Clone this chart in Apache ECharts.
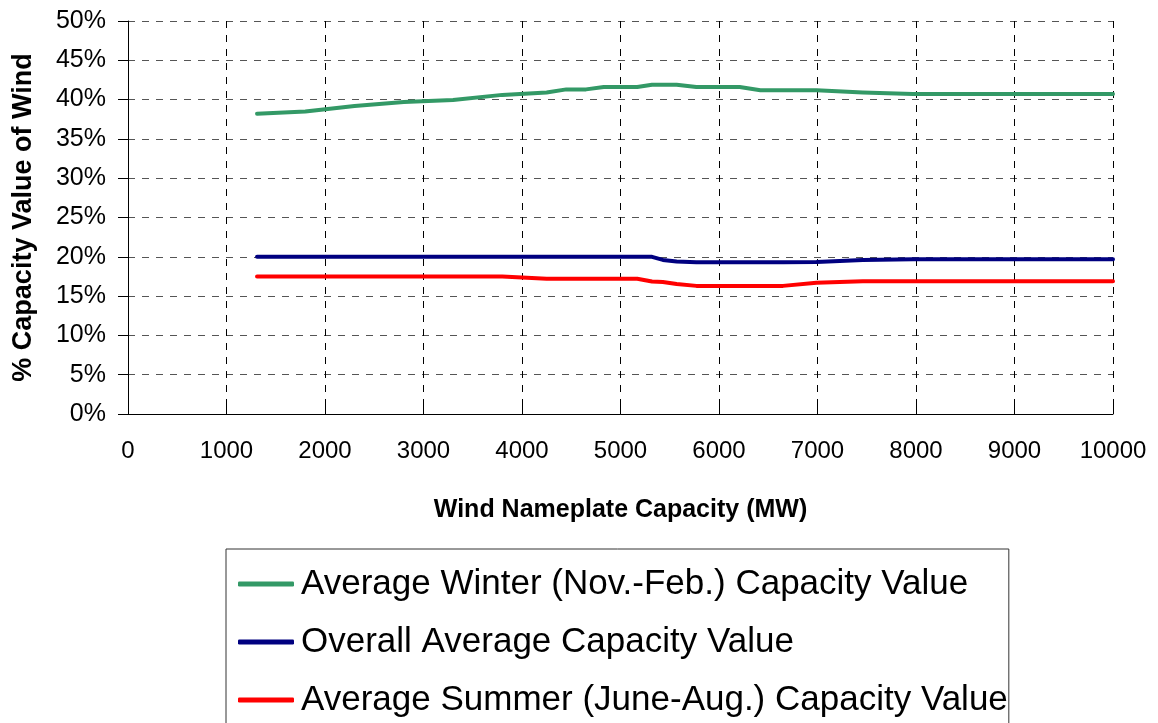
<!DOCTYPE html>
<html>
<head>
<meta charset="utf-8" />
<title>Capacity Value of Wind</title>
<script type="text/javascript" src="https://cdn.jsdelivr.net/npm/echarts@6/dist/echarts.min.js"></script>
<style>
	html, body { margin: 0; padding: 0; background: #fff; }
</style>
</head>
<body>
	<div id="chartmain" style="width: 1158px; height: 723px;"></div>
	<script type="text/javascript">
		// nameplate capacity (MW) of each sample point
		var capacity = [1310, 1800, 2300, 2800, 3300, 3800, 4250, 4450, 4650, 4830, 5170, 5320, 5430, 5570, 5770, 6210, 6420, 6650, 6990, 7460, 7970, 10000];
		// capacity value, percent
		var winter = [38.2, 38.5, 39.2, 39.7, 39.95, 40.6, 40.9, 41.3, 41.3, 41.6, 41.6, 41.9, 41.9, 41.9, 41.6, 41.6, 41.2, 41.2, 41.2, 40.9, 40.7, 40.7];
		var overall = [20.0, 20.0, 20.0, 20.0, 20.0, 20.0, 20.0, 20.0, 20.0, 20.0, 20.0, 20.0, 19.6, 19.4, 19.3, 19.3, 19.3, 19.3, 19.35, 19.6, 19.7, 19.7];
		var summer = [17.5, 17.5, 17.5, 17.5, 17.5, 17.5, 17.2, 17.2, 17.2, 17.2, 17.2, 16.85, 16.8, 16.55, 16.3, 16.3, 16.3, 16.3, 16.7, 16.9, 16.9, 16.9];
		var seriesNames = ['Average Winter (Nov.-Feb.) Capacity Value', 'Overall Average Capacity Value', 'Average Summer (June-Aug.) Capacity Value'];
		var seriesColors = ['#339966', '#000080', '#ff0000'];

		function pairs(ys) {
			var out = [];
			for (var i = 0; i < capacity.length; i++) {
				out.push([capacity[i], ys[i]]);
			}
			return out;
		}

		function lineSeries(name, color, ys) {
			return {
				name : name,
				type : 'line',
				showSymbol : false,
				symbol : 'none',
				color : color,
				lineStyle : { width : 4, color : color, cap : 'round', join : 'round' },
				data : pairs(ys)
			};
		}

		var font = 'Liberation Sans, Arial, sans-serif';

		var option = {
			animation : false,
			backgroundColor : '#fff',
			textStyle : { fontFamily : font, color : '#000' },
			grid : { left : 128, right : 45, top : 21, bottom : 309 },
			legend : {
				orient : 'vertical',
				left : 226,
				top : 549,
				height : 240,
				padding : [15, 1, 40, 12],
				borderColor : '#333',
				borderWidth : 1,
				itemWidth : 56,
				itemHeight : 5,
				itemGap : 18,
				icon : 'roundRect',
				textStyle : { fontFamily : font, fontSize : 35, color : '#000', lineHeight : 40, padding : [0, 0, 0, 2] },
				data : seriesNames
			},
			xAxis : {
				type : 'value',
				min : 0,
				max : 10000,
				interval : 1000,
				name : 'Wind Nameplate Capacity (MW)',
				nameLocation : 'middle',
				nameGap : 84,
				nameTextStyle : { fontFamily : font, fontSize : 25, fontWeight : 'bold', color : '#000' },
				axisLine : { lineStyle : { color : '#000', width : 1 } },
				axisTick : { inside : true, length : 9, lineStyle : { color : '#000' } },
				axisLabel : { fontSize : 24, color : '#000', margin : 25, formatter : function (v) { return String(v); } },
				splitLine : { show : true, lineStyle : { color : '#000', type : [7, 7], width : 1 } }
			},
			yAxis : {
				type : 'value',
				min : 0,
				max : 50,
				interval : 5,
				name : '% Capacity Value of Wind',
				nameLocation : 'middle',
				nameGap : 91,
				nameTextStyle : { fontFamily : font, fontSize : 27, fontWeight : 'bold', color : '#000' },
				axisLine : { show : true, lineStyle : { color : '#000', width : 1 } },
				axisTick : { show : true, length : 10, lineStyle : { color : '#000' } },
				axisLabel : { fontSize : 25, color : '#000', margin : 22, formatter : '{value}%' },
				splitLine : { show : true, lineStyle : { color : '#555', type : [7, 7], width : 1 } }
			},
			series : [
				lineSeries(seriesNames[0], seriesColors[0], winter),
				lineSeries(seriesNames[1], seriesColors[1], overall),
				lineSeries(seriesNames[2], seriesColors[2], summer)
			]
		};

		var myChart = echarts.init(document.getElementById('chartmain'));
		myChart.setOption(option);
	</script>
</body>
</html>
